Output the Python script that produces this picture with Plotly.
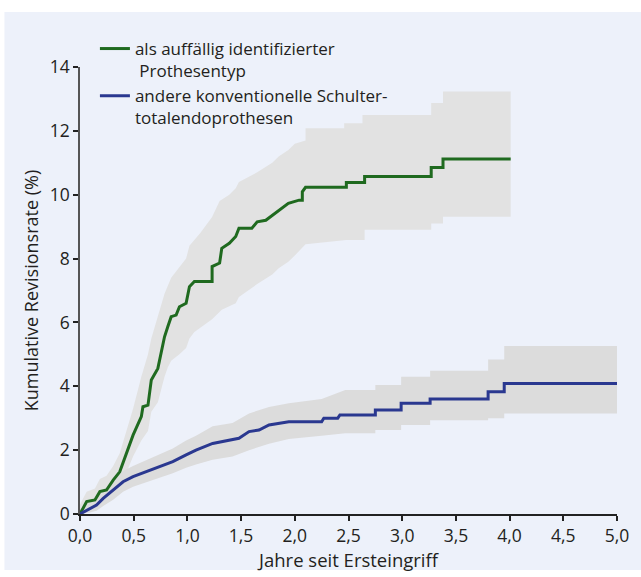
import plotly.graph_objects as go

# ---- data (vertices) ----
# "als auffällig identifizierter Prothesentyp" (green)
green_t = [0.0, 0.062, 0.139, 0.185, 0.247, 0.309, 0.37, 0.432, 0.494, 0.571,
           0.586, 0.633, 0.664, 0.725, 0.756, 0.787, 0.818, 0.849, 0.895, 0.926,
           0.988, 1.019, 1.065, 1.23, 1.23, 1.30, 1.32, 1.39, 1.45, 1.48,
           1.60, 1.65, 1.73, 1.79, 1.85, 1.94, 2.04, 2.07, 2.07, 2.10,
           2.48, 2.48, 2.65, 2.65, 3.27, 3.27, 3.38, 3.38, 4.01]
green_rate = [0.0, 0.39, 0.44, 0.70, 0.75, 1.06, 1.32, 1.90, 2.47, 3.05,
              3.36, 3.41, 4.20, 4.56, 5.03, 5.55, 5.87, 6.18, 6.23, 6.49,
              6.60, 7.12, 7.28, 7.28, 7.75, 7.86, 8.32, 8.48, 8.69, 8.95,
              8.95, 9.15, 9.20, 9.36, 9.52, 9.73, 9.83, 9.83, 10.09, 10.23,
              10.23, 10.38, 10.38, 10.57, 10.57, 10.85, 10.85, 11.12, 11.12]
green_up_t = [0.0, 0.062, 0.139, 0.185, 0.247, 0.309, 0.37, 0.432, 0.494, 0.571,
              0.633, 0.664, 0.725, 0.756, 0.787, 0.849, 0.926, 0.988, 1.019, 1.12,
              1.23, 1.30, 1.39, 1.45, 1.48, 1.65, 1.79, 1.85, 1.94, 2.0,
              2.10, 2.10, 2.46, 2.46, 2.63, 2.63, 3.27, 3.27, 3.38, 3.38, 4.01]
green_up = [0.3, 0.7, 0.8, 1.1, 1.2, 1.5, 1.9, 2.6, 3.3, 4.3,
            5.0, 5.5, 6.2, 6.5, 6.9, 7.4, 7.75, 8.0, 8.4, 8.8,
            9.3, 9.8, 10.0, 10.2, 10.4, 10.7, 11.0, 11.2, 11.4, 11.6,
            11.7, 12.08, 12.08, 12.24, 12.24, 12.5, 12.5, 12.87, 12.87, 13.23, 13.23]
green_lo_t = [0.0, 0.062, 0.139, 0.185, 0.247, 0.309, 0.37, 0.432, 0.494, 0.571,
              0.633, 0.664, 0.725, 0.756, 0.787, 0.818, 0.849, 0.926, 0.988, 1.019,
              1.065, 1.23, 1.32, 1.45, 1.48, 1.65, 1.79, 1.85, 1.94, 2.0,
              2.10, 2.48, 2.65, 2.65, 3.27, 3.27, 3.38, 3.38, 4.01]
green_lo = [0.0, 0.1, 0.15, 0.3, 0.35, 0.6, 0.8, 1.3, 1.8, 2.3,
            2.6, 3.2, 3.5, 3.9, 4.3, 4.6, 4.8, 5.0, 5.2, 5.5,
            5.7, 6.1, 6.4, 6.6, 6.8, 7.2, 7.5, 7.7, 7.9, 8.1,
            8.45, 8.58, 8.58, 8.9, 8.9, 9.1, 9.1, 9.31, 9.31]

# "andere konventionelle Schultertotalendoprothesen" (blue)
blue_t = [0.0, 0.093, 0.154, 0.216, 0.309, 0.401, 0.494, 0.617, 0.741, 0.864,
          0.988, 1.08, 1.235, 1.42, 1.48, 1.574, 1.667, 1.76, 1.944, 2.25,
          2.27, 2.40, 2.42, 2.75, 2.75, 2.99, 2.99, 3.26, 3.26, 3.80,
          3.80, 3.95, 3.95, 5.0]
blue_rate = [0.0, 0.18, 0.28, 0.49, 0.75, 1.01, 1.17, 1.32, 1.48, 1.64,
             1.85, 2.0, 2.21, 2.32, 2.37, 2.58, 2.63, 2.79, 2.89, 2.89,
             3.0, 3.0, 3.10, 3.10, 3.26, 3.26, 3.47, 3.47, 3.60, 3.60,
             3.83, 3.83, 4.09, 4.09]
blue_up_t = [0.0, 0.093, 0.154, 0.216, 0.309, 0.401, 0.494, 0.617, 0.741, 0.864,
             0.988, 1.08, 1.235, 1.42, 1.574, 1.76, 1.944, 2.25, 2.47, 2.75,
             2.75, 2.99, 2.99, 3.26, 3.26, 3.80, 3.80, 3.95, 3.95, 5.0]
blue_up = [0.15, 0.35, 0.5, 0.75, 1.05, 1.35, 1.5, 1.69, 1.86, 2.05,
           2.3, 2.45, 2.75, 2.85, 3.15, 3.35, 3.47, 3.6, 3.88, 3.88,
           4.04, 4.04, 4.30, 4.30, 4.49, 4.49, 4.84, 4.84, 5.26, 5.26]
blue_lo_t = [0.0, 0.093, 0.154, 0.216, 0.309, 0.401, 0.494, 0.617, 0.741, 0.864,
             0.988, 1.08, 1.235, 1.42, 1.574, 1.76, 1.944, 2.25, 2.47, 2.75,
             2.75, 2.99, 2.99, 3.26, 3.26, 3.80, 3.80, 3.95, 3.95, 5.0]
blue_lo = [0.0, 0.05, 0.1, 0.25, 0.45, 0.7, 0.85, 1.0, 1.13, 1.28,
           1.45, 1.55, 1.7, 1.8, 2.0, 2.2, 2.35, 2.45, 2.53, 2.53,
           2.63, 2.63, 2.79, 2.79, 2.94, 2.94, 3.0, 3.0, 3.15, 3.15]

name_green = "als auffällig identifizierter<br>\u00a0Prothesentyp"
name_blue = "andere konventionelle Schulter-<br>totalendoprothesen"

x_ticks = [0, 0.5, 1, 1.5, 2, 2.5, 3, 3.5, 4, 4.5, 5]
y_ticks = [0, 2, 4, 6, 8, 10, 12, 14]

BG = "#edf1fa"
GREEN = "#1f6a1f"
BLUE = "#2a3890"
BAND_GREEN = "rgb(226,226,226)"
BAND_BLUE = "rgb(220,220,220)"
FONT = "Open Sans"
TXT = "#231f20"

fig = go.Figure()

# confidence bands (closed polygons: upper edge, then lower edge reversed)
for ut, uv, lt, lv, col in [(green_up_t, green_up, green_lo_t, green_lo, BAND_GREEN),
                            (blue_up_t, blue_up, blue_lo_t, blue_lo, BAND_BLUE)]:
    fig.add_trace(go.Scatter(x=ut + lt[::-1], y=uv + lv[::-1], mode="lines",
                             line=dict(width=0), fill="toself", fillcolor=col,
                             showlegend=False, hoverinfo="skip"))

fig.add_trace(go.Scatter(x=green_t, y=green_rate, mode="lines", name=name_green,
                         line=dict(color=GREEN, width=3)))
fig.add_trace(go.Scatter(x=blue_t, y=blue_rate, mode="lines", name=name_blue,
                         line=dict(color=BLUE, width=3)))

# light blue panel background
fig.add_shape(type="rect", xref="paper", yref="paper",
              x0=(4 - 80) / 540, x1=(645 - 80) / 540,
              y0=(514 - 570) / 447, y1=(514 - 12) / 447,
              fillcolor=BG, line=dict(width=0), layer="below")

fig.update_layout(
    width=641, height=577,
    margin=dict(l=80, r=21, t=67, b=63),
    paper_bgcolor="white", plot_bgcolor=BG,
    separators=",.",
    font=dict(family=FONT, size=17, color=TXT),
    legend=dict(x=(95 - 80) / 540, y=(514 - 31) / 447, xanchor="left", yanchor="top",
                bgcolor="rgba(0,0,0,0)", font=dict(size=17, color=TXT),
                valign="top", tracegroupgap=0, traceorder="normal"),
    xaxis=dict(range=[0, 5], tickvals=x_ticks, tickformat=".1f", showgrid=False,
               zeroline=False, showline=True, linecolor="#222", linewidth=1.5,
               ticks="outside", ticklen=5, tickwidth=1.5, tickcolor="#222",
               tickfont=dict(size=17.5),
               title=dict(text="Jahre seit Ersteingriff", font=dict(size=18.5), standoff=4)),
    yaxis=dict(range=[0, 14], tickvals=y_ticks, showgrid=False,
               zeroline=False, showline=True, linecolor="#555", linewidth=1.5,
               ticks="outside", ticklen=5, tickwidth=1.5, tickcolor="#222",
               tickfont=dict(size=17.5),
               title=dict(text="Kumulative Revisionsrate (%)", font=dict(size=18), standoff=6)),
)

fig.write_html("out.html")
